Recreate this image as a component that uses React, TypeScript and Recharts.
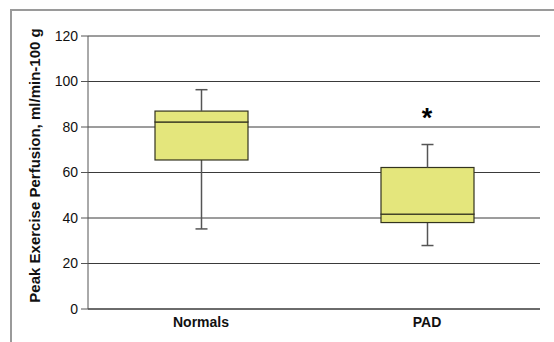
import React from 'react';
import { ComposedChart, Bar, XAxis, YAxis, CartesianGrid, Scatter } from 'recharts';

const categories = ['Normals', 'PAD'];
const minValues = [35.2, 27.9];
const q1Values = [65.5, 38.0];
const medianValues = [82.2, 41.7];
const q3Values = [87.0, 62.2];
const maxValues = [96.4, 72.3];
const significanceMarks = ['', '*'];
const markValues = [null, 86.2];
const yTicks = [0, 20, 40, 60, 80, 100, 120];
const yLabel = 'Peak Exercise Perfusion, ml/min-100 g';

const data = categories.map((name, i) => ({
  name,
  base: minValues[i],
  lowWhisker: q1Values[i] - minValues[i],
  lowBox: medianValues[i] - q1Values[i],
  highBox: q3Values[i] - medianValues[i],
  highWhisker: maxValues[i] - q3Values[i],
  mark: markValues[i],
  sig: significanceMarks[i],
}));

const FONT = '"Liberation Sans", Arial, Helvetica, sans-serif';
const BOX_FILL = '#e4e67c';
const BOX_STROKE = '#33331f';
const WHISKER = '#555555';
const CAP = 12;

const Empty = () => <g />;

const LowWhisker = (props: any) => {
  const { x, y, width, height } = props;
  const cx = x + width / 2;
  return (
    <g>
      <line x1={cx} x2={cx} y1={y} y2={y + height} stroke={WHISKER} strokeWidth={1.5} />
      <line x1={cx - CAP / 2} x2={cx + CAP / 2} y1={y + height} y2={y + height} stroke={WHISKER} strokeWidth={1.5} />
    </g>
  );
};

const HighWhisker = (props: any) => {
  const { x, y, width, height } = props;
  const cx = x + width / 2;
  return (
    <g>
      <line x1={cx} x2={cx} y1={y} y2={y + height} stroke={WHISKER} strokeWidth={1.5} />
      <line x1={cx - CAP / 2} x2={cx + CAP / 2} y1={y} y2={y} stroke={WHISKER} strokeWidth={1.5} />
    </g>
  );
};

const BoxPart = (props: any) => {
  const { x, y, width, height } = props;
  return <rect x={x} y={y} width={width} height={height} fill={BOX_FILL} stroke={BOX_STROKE} strokeWidth={1.2} />;
};

const Star = (props: any) => {
  const { cx, cy, payload } = props;
  if (!payload || !payload.sig || cy == null || isNaN(cy)) return <g />;
  const fs = 27;
  return (
    <text x={cx} y={cy + fs * 0.52} textAnchor="middle" fontSize={fs} fontWeight="bold" fontFamily={FONT} fill="#000">
      {payload.sig}
    </text>
  );
};

const YLabel = (props: any) => {
  const vb = props.viewBox || {};
  const cx = 34;
  const cy = (vb.y ?? 36) + (vb.height ?? 273) / 2 - 7;
  return (
    <text x={cx} y={cy} transform={`rotate(-90, ${cx}, ${cy})`} textAnchor="middle" dominantBaseline="central"
      fontSize={15} fontWeight="bold" fontFamily={FONT} fill="#111">
      {yLabel}
    </text>
  );
};

export default function App() {
  return (
    <div style={{ position: 'absolute', left: 0, top: 0, width: 554, height: 342, background: '#fff' }}>
      <div style={{ position: 'absolute', left: 10, top: 9, width: 544, height: 333, borderTop: '2px solid #9a9a9a', borderLeft: '2px solid #9a9a9a', boxSizing: 'border-box' }} />
      <div style={{ position: 'absolute', left: 0, top: 0 }}>
        <ComposedChart width={554} height={342} data={data} margin={{ top: 36, right: 14, bottom: 3, left: 0 }} barCategoryGap={0}>
          <CartesianGrid vertical={false} stroke="#3a3a3a" strokeWidth={1} />
          <XAxis dataKey="name" height={30} tickLine={false} axisLine={{ stroke: '#3a3a3a' }}
            tick={{ fontSize: 14, fontWeight: 'bold', fontFamily: FONT, fill: '#111' }} tickMargin={2} />
          <YAxis type="number" domain={[0, 120]} ticks={yTicks} width={88} interval={0}
            axisLine={{ stroke: '#555' }} tickLine={{ stroke: '#555' }} tickSize={7} tickMargin={3}
            tick={{ fontSize: 14, fontFamily: FONT, fill: '#111' }} label={<YLabel />} />
          <Bar dataKey="base" stackId="box" barSize={93} shape={<Empty />} isAnimationActive={false} />
          <Bar dataKey="lowWhisker" stackId="box" barSize={93} shape={<LowWhisker />} isAnimationActive={false} />
          <Bar dataKey="lowBox" stackId="box" barSize={93} shape={<BoxPart />} isAnimationActive={false} />
          <Bar dataKey="highBox" stackId="box" barSize={93} shape={<BoxPart />} isAnimationActive={false} />
          <Bar dataKey="highWhisker" stackId="box" barSize={93} shape={<HighWhisker />} isAnimationActive={false} />
          <Scatter dataKey="mark" shape={<Star />} isAnimationActive={false} />
        </ComposedChart>
      </div>
    </div>
  );
}
